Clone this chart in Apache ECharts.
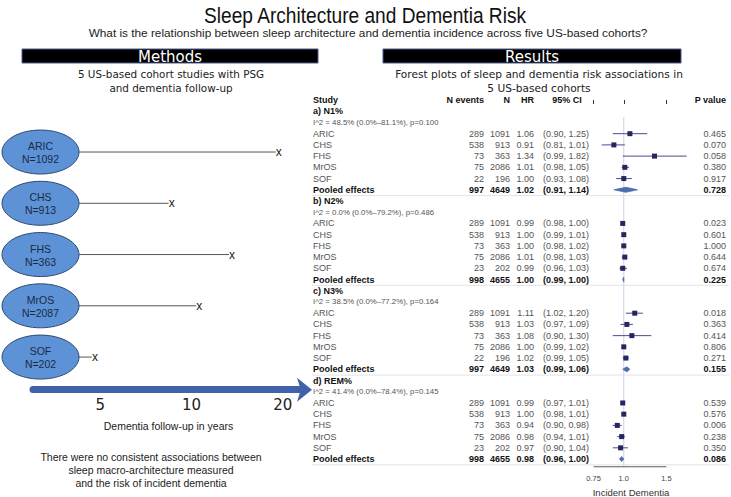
<!DOCTYPE html>
<html><head><meta charset="utf-8">
<script src="https://cdn.jsdelivr.net/npm/echarts@6/dist/echarts.min.js"></script>
<style>html,body{margin:0;padding:0;background:#fff;}#c{width:731px;height:497px;}</style>
</head><body><div id="c"></div>
<script>
// ---------- Methods panel data ----------
const cohorts = ['ARIC', 'CHS', 'FHS', 'MrOS', 'SOF'];
const cohortN = [1092, 913, 363, 2087, 202];
const followUpYears = [19.4, 8.6, 13.6, 10.6, 4.8];
const followUpTicks = [5, 10, 20];

// ---------- Results (forest plot) data ----------
const outcomes = ['a) N1%', 'b) N2%', 'c) N3%', 'd) REM%'];
const heterogeneity = [
  'I^2 = 48.5% (0.0%\u201381.1%), p=0.100',
  'I^2 = 0.0% (0.0%\u201379.2%), p=0.486',
  'I^2 = 38.5% (0.0%\u201377.2%), p=0.164',
  'I^2 = 41.4% (0.0%\u201378.4%), p=0.145'
];
const studies = ['ARIC', 'CHS', 'FHS', 'MrOS', 'SOF'];

const n1Events = [289, 538, 73, 75, 22];
const n1N      = [1091, 913, 363, 2086, 196];
const n1HR     = [1.06, 0.91, 1.34, 1.01, 1.00];
const n1Lo     = [0.90, 0.81, 0.99, 0.98, 0.93];
const n1Hi     = [1.25, 1.01, 1.82, 1.05, 1.08];
const n1P      = [0.465, 0.070, 0.058, 0.380, 0.917];

const n2Events = [289, 538, 73, 75, 23];
const n2N      = [1091, 913, 363, 2086, 202];
const n2HR     = [0.99, 1.00, 1.00, 1.01, 0.99];
const n2Lo     = [0.98, 0.99, 0.98, 0.98, 0.96];
const n2Hi     = [1.00, 1.01, 1.02, 1.03, 1.03];
const n2P      = [0.023, 0.601, 1.000, 0.644, 0.674];

const n3Events = [289, 538, 73, 75, 22];
const n3N      = [1091, 913, 363, 2086, 196];
const n3HR     = [1.11, 1.03, 1.08, 1.00, 1.02];
const n3Lo     = [1.02, 0.97, 0.90, 0.99, 0.99];
const n3Hi     = [1.20, 1.09, 1.30, 1.02, 1.05];
const n3P      = [0.018, 0.363, 0.414, 0.806, 0.271];

const remEvents = [289, 538, 73, 75, 23];
const remN      = [1091, 913, 363, 2086, 202];
const remHR     = [0.99, 1.00, 0.94, 0.98, 0.97];
const remLo     = [0.97, 0.98, 0.90, 0.94, 0.90];
const remHi     = [1.01, 1.01, 0.98, 1.01, 1.04];
const remP      = [0.539, 0.576, 0.006, 0.238, 0.350];

const pooledEvents = [997, 998, 997, 998];
const pooledN      = [4649, 4655, 4649, 4655];
const pooledHR     = [1.02, 1.00, 1.03, 0.98];
const pooledLo     = [0.91, 0.99, 0.99, 0.96];
const pooledHi     = [1.14, 1.00, 1.06, 1.00];
const pooledP      = [0.728, 0.225, 0.155, 0.086];

const hrTicks = [0.75, 1.0, 1.5];
const hrTickLabels = ['0.75', '1.0', '1.5'];

// ---------- build table rows ----------
const sections = [
  [n1Events, n1N, n1HR, n1Lo, n1Hi, n1P],
  [n2Events, n2N, n2HR, n2Lo, n2Hi, n2P],
  [n3Events, n3N, n3HR, n3Lo, n3Hi, n3P],
  [remEvents, remN, remHR, remLo, remHi, remP]
];
const rows = [{ kind: 'header' }];
sections.forEach((s, k) => {
  rows.push({ kind: 'section', label: outcomes[k] });
  rows.push({ kind: 'het', label: heterogeneity[k] });
  studies.forEach((name, i) => {
    rows.push({ kind: 'study', label: name, ev: s[0][i], n: s[1][i], hr: s[2][i], lo: s[3][i], hi: s[4][i], p: s[5][i] });
  });
  rows.push({ kind: 'pooled', label: 'Pooled effects', ev: pooledEvents[k], n: pooledN[k], hr: pooledHR[k], lo: pooledLo[k], hi: pooledHi[k], p: pooledP[k] });
});
const tableData = rows.map((r, i) => [1, i]);
const forestData = [];
rows.forEach((r, i) => {
  if (r.kind === 'study' || r.kind === 'pooled') forestData.push([r.hr, i, r.lo, r.hi, r.kind === 'pooled' ? 1 : 0]);
});
const lastRow = rows.length - 1;
const axisRow = lastRow + 0.7;

const SANS = 'Liberation Sans, Arial, sans-serif';
const DEJA = 'DejaVu Sans, sans-serif';
const COL = { study: 313, ev: 484, n: 510, hr: 534, ci: 543, ciHead: 567, p: 726 };

function txt(x, y, text, size, weight, fill, align, family) {
  return { type: 'text', x: x, y: y, silent: true,
    style: { text: text, fill: fill, font: (weight || 'normal') + ' ' + size + 'px ' + (family || SANS),
      textAlign: align || 'left', textVerticalAlign: 'middle' } };
}

const chart = echarts.init(document.getElementById('c'), null, { renderer: 'svg' });

chart.setOption({
  backgroundColor: '#ffffff',
  animation: false,
  grid: [
    { left: 33, width: 271, top: 126.4, height: 256.3, outerBoundsMode: 'none', containLabel: false },   // follow-up timeline
    { left: 551, width: 169, top: 88.8, height: 466.9 - 88.8, outerBoundsMode: 'none', containLabel: false } // forest plot
  ],
  xAxis: [
    { type: 'log', gridIndex: 0, min: 3, max: 23.5, offset: 7,
      axisLine: { show: true, lineStyle: { color: '#3f62ab', width: 7 }, symbol: ['none', 'arrow'], symbolSize: [18, 15], symbolOffset: [0, 8] },
      axisTick: { show: false }, splitLine: { show: false },
      axisLabel: { customValues: followUpTicks, fontSize: 15, fontFamily: DEJA, color: '#222', margin: 8 },
      name: 'Dementia follow-up in years', nameLocation: 'middle', nameGap: 31,
      nameTextStyle: { fontSize: 10.5, fontFamily: SANS, color: '#222' } },
    { type: 'log', gridIndex: 1, min: 0.5, max: 2.5,
      axisLine: { show: false }, splitLine: { show: false },
      axisTick: { show: true, customValues: hrTicks, length: 4, lineStyle: { color: '#333', width: 1 } },
      axisLabel: { customValues: hrTicks, fontSize: 7.5, fontFamily: SANS, color: '#444', margin: 8,
        formatter: function (v) { const i = hrTicks.indexOf(v); return i >= 0 ? hrTickLabels[i] : ''; } },
      name: 'Incident Dementia', nameLocation: 'middle', nameGap: 17,
      nameTextStyle: { fontSize: 9.5, fontFamily: SANS, color: '#333', padding: [0, 9, 0, 0] } }
  ],
  yAxis: [
    { type: 'category', gridIndex: 0, data: cohorts, inverse: true, show: false },
    { type: 'value', gridIndex: 1, min: -1, max: axisRow, inverse: true, show: false }
  ],
  graphic: [
    { type: 'text', x: 365, y: 15, scaleX: 0.85, silent: true,
      style: { text: 'Sleep Architecture and Dementia Risk', fill: '#111', font: '22.5px ' + SANS, textAlign: 'center', textVerticalAlign: 'middle' } },
    { type: 'text', x: 368, y: 33, silent: true,
      style: { text: 'What is the relationship between sleep architecture and dementia incidence across five US-based cohorts?', fill: '#222', font: '11.8px ' + SANS, textAlign: 'center', textVerticalAlign: 'middle' } },
    { type: 'rect', shape: { x: 22, y: 49, width: 296, height: 14 }, style: { fill: '#000', stroke: '#4d5b8c', lineWidth: 1 } },
    { type: 'text', x: 170, y: 57, silent: true,
      style: { text: 'Methods', fill: '#fff', font: '15px ' + DEJA, textAlign: 'center', textVerticalAlign: 'middle' } },
    { type: 'rect', shape: { x: 383, y: 49, width: 298, height: 14 }, style: { fill: '#000', stroke: '#4d5b8c', lineWidth: 1 } },
    { type: 'text', x: 532, y: 57, silent: true,
      style: { text: 'Results', fill: '#fff', font: '15px ' + DEJA, textAlign: 'center', textVerticalAlign: 'middle' } },
    { type: 'text', x: 171, y: 74, silent: true,
      style: { text: '5 US-based cohort studies with PSG', fill: '#222', font: '10.4px ' + DEJA, textAlign: 'center', textVerticalAlign: 'middle' } },
    { type: 'text', x: 171, y: 88, silent: true,
      style: { text: 'and dementia follow-up', fill: '#222', font: '10.4px ' + DEJA, textAlign: 'center', textVerticalAlign: 'middle' } },
    { type: 'text', x: 539, y: 74, silent: true,
      style: { text: 'Forest plots of sleep and dementia risk associations in', fill: '#222', font: '10.6px ' + DEJA, textAlign: 'center', textVerticalAlign: 'middle' } },
    { type: 'text', x: 539, y: 88, silent: true,
      style: { text: '5 US-based cohorts', fill: '#222', font: '10.6px ' + DEJA, textAlign: 'center', textVerticalAlign: 'middle' } },
    { type: 'text', x: 151, y: 457, silent: true,
      style: { text: 'There were no consistent associations between', fill: '#222', font: '10.5px ' + SANS, textAlign: 'center', textVerticalAlign: 'middle' } },
    { type: 'text', x: 151, y: 470, silent: true,
      style: { text: 'sleep macro-architecture measured', fill: '#222', font: '10.5px ' + SANS, textAlign: 'center', textVerticalAlign: 'middle' } },
    { type: 'text', x: 151, y: 483, silent: true,
      style: { text: 'and the risk of incident dementia', fill: '#222', font: '10.5px ' + SANS, textAlign: 'center', textVerticalAlign: 'middle' } }
  ],
  series: [
    // cohorts with follow-up lines
    { type: 'custom', xAxisIndex: 0, yAxisIndex: 0, clip: false,
      data: followUpYears.map((v, i) => [v, i]),
      encode: { x: 0, y: 1 },
      renderItem: function (params, api) {
        const i = params.dataIndex;
        const p = api.coord([api.value(0), api.value(1)]);
        const cx = 40.5, rx = 38.5, ry = 22;
        return { type: 'group', children: [
          { type: 'line', shape: { x1: cx + rx, y1: p[1], x2: p[0] - 3, y2: p[1] }, style: { stroke: '#555', lineWidth: 1 } },
          txt(p[0], p[1], 'x', 12, 'normal', '#222', 'center'),
          { type: 'ellipse', shape: { cx: cx, cy: p[1], rx: rx, ry: ry }, style: { fill: '#5d93d6', stroke: '#2f4a72', lineWidth: 1 } },
          txt(cx, p[1] - 6, cohorts[i], 10.5, 'normal', '#1a2a45', 'center'),
          txt(cx, p[1] + 7, 'N=' + cohortN[i], 10.5, 'normal', '#1a2a45', 'center')
        ] };
      } },
    // reference line at HR = 1
    { type: 'line', xAxisIndex: 1, yAxisIndex: 1, data: [[1, 1.5], [1, axisRow]], symbol: 'none', silent: true,
      lineStyle: { color: '#cfcfe8', width: 1 }, z: 1 },
    // x-axis bar spanning the labelled ticks
    { type: 'line', xAxisIndex: 1, yAxisIndex: 1, data: [[hrTicks[0], axisRow], [hrTicks[hrTicks.length - 1], axisRow]], symbol: 'none', silent: true,
      lineStyle: { color: '#333', width: 1 }, z: 1 },
    // table text
    { type: 'custom', xAxisIndex: 1, yAxisIndex: 1, clip: false, data: tableData, encode: { y: 1 },
      renderItem: function (params, api) {
        const r = rows[params.dataIndex];
        const y = api.coord([1, api.value(1)])[1];
        const ch = [];
        if (r.kind === 'header') {
          ch.push(txt(COL.study, y, 'Study', 9, 'bold', '#111', 'left'));
          ch.push(txt(COL.ev, y, 'N events', 9, 'bold', '#111', 'right'));
          ch.push(txt(COL.n, y, 'N', 9, 'bold', '#111', 'right'));
          ch.push(txt(COL.hr, y, 'HR', 9, 'bold', '#111', 'right'));
          ch.push(txt(COL.ciHead, y, '95% CI', 9, 'bold', '#111', 'center'));
          ch.push(txt(COL.p, y, 'P value', 9, 'bold', '#111', 'right'));
        } else if (r.kind === 'section') {
          ch.push(txt(COL.study, y, r.label, 9, 'bold', '#111', 'left'));
        } else if (r.kind === 'het') {
          ch.push(txt(COL.study, y, r.label, 7.8, 'normal', '#555', 'left'));
        } else {
          const b = r.kind === 'pooled';
          const w = b ? 'bold' : 'normal', c = b ? '#111' : '#555';
          ch.push(txt(COL.study, y, r.label, 9, w, c, 'left'));
          ch.push(txt(COL.ev, y, String(r.ev), 9, w, c, 'right'));
          ch.push(txt(COL.n, y, String(r.n), 9, w, c, 'right'));
          ch.push(txt(COL.hr, y, r.hr.toFixed(2), 9, w, c, 'right'));
          ch.push(txt(COL.ci, y, '(' + r.lo.toFixed(2) + ', ' + r.hi.toFixed(2) + ')', 9, w, c, 'left'));
          ch.push(txt(COL.p, y, r.p.toFixed(3), 9, w, c, 'right'));
          if (b) ch.push({ type: 'line', shape: { x1: 312, y1: y + 5.8, x2: 729, y2: y + 5.8 }, style: { stroke: '#dcdcdc', lineWidth: 0.8 } });
        }
        return { type: 'group', children: ch };
      } },
    // forest marks
    { type: 'custom', xAxisIndex: 1, yAxisIndex: 1, clip: false, data: forestData, encode: { x: [0, 2, 3], y: 1 }, z: 3,
      renderItem: function (params, api) {
        const row = api.value(1);
        const p = api.coord([api.value(0), row]);
        const lo = api.coord([api.value(2), row]);
        const hi = api.coord([api.value(3), row]);
        if (api.value(4) === 1) {
          return { type: 'polygon', shape: { points: [[lo[0], p[1]], [p[0], p[1] - 2.5], [hi[0], p[1]], [p[0], p[1] + 2.5]] },
            style: { fill: '#4a6fae', stroke: '#4a6fae', lineWidth: 0.8 } };
        }
        const s = 5;
        return { type: 'group', children: [
          { type: 'line', shape: { x1: lo[0], y1: p[1], x2: hi[0], y2: p[1] }, style: { stroke: '#4b4a8e', lineWidth: 1 } },
          { type: 'rect', shape: { x: p[0] - s / 2, y: p[1] - s / 2, width: s, height: s }, style: { fill: '#25255f' } }
        ] };
      } }
  ]
});
</script>
</body></html>
